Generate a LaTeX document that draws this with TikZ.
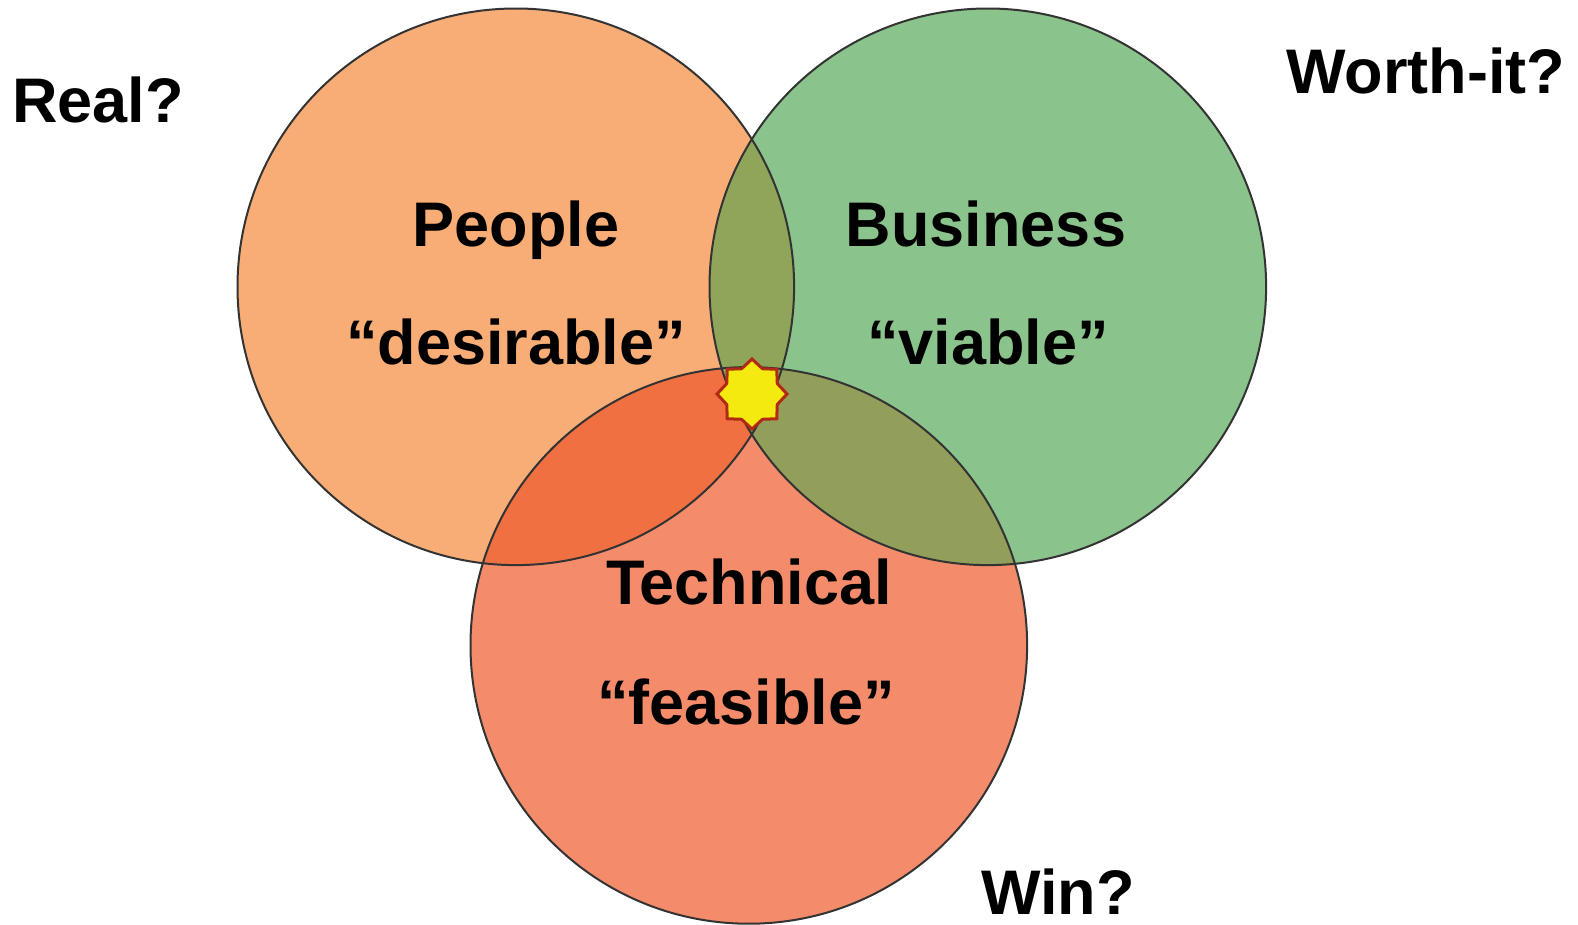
\documentclass[tikz,border=0pt]{standalone}
\usepackage{fontspec}
\setmainfont{Liberation Sans}
\usetikzlibrary{shapes.geometric}
\definecolor{peach}{HTML}{F8AD77}
\definecolor{leaf}{HTML}{8AC48C}
\definecolor{salmon}{HTML}{F48C6C}
\definecolor{pbmix}{HTML}{F07042}
\definecolor{prmix}{HTML}{8FA55A}
\definecolor{rbmix}{HTML}{929F5A}
\definecolor{ring}{HTML}{333333}
\definecolor{staryellow}{HTML}{F5EA10}
\definecolor{starred}{HTML}{B02A14}
\tikzset{
  ringline/.style={draw=ring, line width=2pt},
  label/.style={font=\bfseries\fontsize{63}{63}\selectfont, inner sep=0pt, anchor=base},
  sidelabel/.style={font=\bfseries\fontsize{63}{63}\selectfont, inner sep=0pt, anchor=base west},
}
\begin{document}
\begin{tikzpicture}[x=1pt,y=-1pt]
\useasboundingbox (0,0) rectangle (1578,924);
\coordinate (cP) at (515.8,286.8);
\coordinate (cB) at (987.8,286.8);
\coordinate (cT) at (748.8,645.4);
\def\R{278.3pt}
% base discs
\fill[peach]  (cP) circle (\R);
\fill[leaf]   (cB) circle (\R);
\fill[salmon] (cT) circle (\R);
% pairwise overlaps
\begin{scope}
  \clip (cP) circle (\R);
  \fill[prmix] (cB) circle (\R);
  \fill[pbmix] (cT) circle (\R);
\end{scope}
\begin{scope}
  \clip (cB) circle (\R);
  \fill[rbmix] (cT) circle (\R);
\end{scope}
\begin{scope}
  \clip (cP) circle (\R);
  \clip (cB) circle (\R);
  \fill[prmix] (cT) circle (\R);
\end{scope}
% outlines
\node[circle, ringline, minimum size=556.6pt, inner sep=0pt] (people) at (cP) {};
\node[circle, ringline, minimum size=556.6pt, inner sep=0pt] (business) at (cB) {};
\node[circle, ringline, minimum size=556.6pt, inner sep=0pt] (technical) at (cT) {};
% sweet spot
\node[star, star points=8, star point ratio=1.28, minimum size=70pt, inner sep=0pt,
      fill=staryellow, draw=starred, line width=3pt] (spot) at (752,394) {};
% labels
\node[label] (peopleT) at (516,246.6) {People};
\node[label] (peopleQ) at (516,364) {“desirable”};
\node[label] (businessT) at (986,246.6) {Business};
\node[label] (businessQ) at (988,364) {“viable”};
\node[label] (technicalT) at (749,604) {Technical};
\node[label] (technicalQ) at (746,724.6) {“feasible”};
\node[sidelabel] (real) at (12,122.8) {Real?};
\node[sidelabel] (worth) at (1286,93.6) {Worth-it?};
\node[sidelabel] (win) at (981,914) {Win?};
\end{tikzpicture}
\end{document}
